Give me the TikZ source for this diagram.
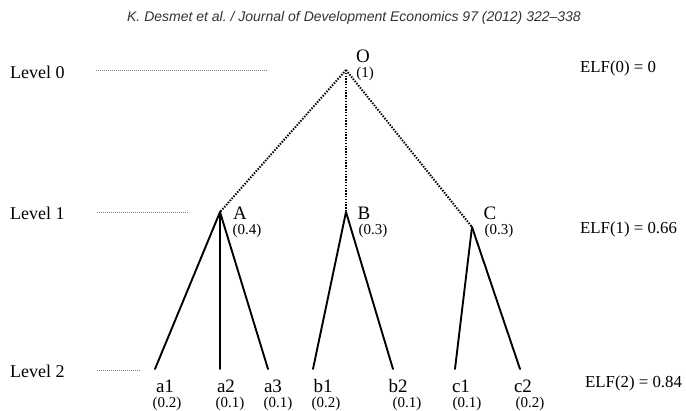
\documentclass[tikz,border=0pt]{standalone}
\usepackage{fontspec}
\setmainfont{Liberation Serif}
\newfontfamily\hdrfont[Ligatures=TeX]{Liberation Sans}
\begin{document}
\begin{tikzpicture}[x=1pt,y=-1pt,
  lbl/.style={inner sep=0pt,font=\fontsize{18}{20}\selectfont},
  nm/.style={inner sep=0pt,font=\fontsize{19}{21}\selectfont},
  elf/.style={inner sep=0pt,font=\fontsize{16.8}{19}\selectfont},
  prob/.style={inner sep=0pt,font=\fontsize{15}{17}\selectfont},
  branch/.style={line width=1.9pt,line cap=round},
  dotbranch/.style={line width=2pt,dash pattern=on 1.4pt off 1.4pt},
  levline/.style={line width=0.5pt,gray,dash pattern=on 0.8pt off 1.2pt}]
\useasboundingbox (0,0) rectangle (686,411);
% header
\node[inner sep=0pt,font=\hdrfont\itshape\fontsize{14}{16}\selectfont,text=black!80] (hdr) at (354,18) {K. Desmet et al.\ / Journal of Development Economics 97 (2012) 322–338};
% level labels
\node[lbl,anchor=west] (l0) at (10,72) {Level 0};
\node[lbl,anchor=west] (l1) at (10,213) {Level 1};
\node[lbl,anchor=west] (l2) at (10,371) {Level 2};
\coordinate (l0a) at (96,70); \coordinate (l0b) at (268,70);
\coordinate (l1a) at (97,212); \coordinate (l1b) at (189,212);
\coordinate (l2a) at (97,370); \coordinate (l2b) at (140,370);
\draw[levline] (l0a) -- (l0b);
\draw[levline] (l1a) -- (l1b);
\draw[levline] (l2a) -- (l2b);
% apexes
\coordinate (O) at (346,70);
\coordinate (A) at (220,212);
\coordinate (B) at (346,212);
\coordinate (C) at (472,227);
\draw[dotbranch] (O) -- (A);
\draw[dotbranch] (O) -- (B);
\draw[dotbranch] (O) -- (C);
% leaves
\coordinate (a1e) at (155,369);
\coordinate (a2e) at (220,369);
\coordinate (a3e) at (268,369);
\coordinate (b1e) at (313,369);
\coordinate (b2e) at (393,369);
\coordinate (c1e) at (455,369);
\coordinate (c2e) at (520,369);
\draw[branch] (A) -- (a1e);
\draw[branch] (A) -- (a2e);
\draw[branch] (A) -- (a3e);
\draw[branch] (B) -- (b1e);
\draw[branch] (B) -- (b2e);
\draw[branch] (C) -- (c1e);
\draw[branch] (C) -- (c2e);
% node labels
\node[nm] (Ot) at (363,56) {O};
\node[prob] (Op) at (365,74) {(1)};
\node[nm] (At) at (240,213) {A};
\node[prob] (Ap) at (247,231) {(0.4)};
\node[nm] (Bt) at (364,213) {B};
\node[prob] (Bp) at (373,231) {(0.3)};
\node[nm] (Ct) at (490,213) {C};
\node[prob] (Cp) at (499,231) {(0.3)};
% leaf labels
\node[nm] (a1) at (165,386) {a1};
\node[prob] (a1p) at (167,404) {(0.2)};
\node[nm] (a2) at (226,386) {a2};
\node[prob] (a2p) at (230,404) {(0.1)};
\node[nm] (a3) at (273,386) {a3};
\node[prob] (a3p) at (278,404) {(0.1)};
\node[nm] (b1) at (323,386) {b1};
\node[prob] (b1p) at (326,404) {(0.2)};
\node[nm] (b2) at (398,386) {b2};
\node[prob] (b2p) at (407,404) {(0.1)};
\node[nm] (c1) at (461,386) {c1};
\node[prob] (c1p) at (467,404) {(0.1)};
\node[nm] (c2) at (523,386) {c2};
\node[prob] (c2p) at (530,404) {(0.2)};
% ELF
\node[elf,anchor=west] (e0) at (580,68) {ELF(0) = 0};
\node[elf,anchor=west] (e1) at (580,229) {ELF(1) = 0.66};
\node[elf,anchor=west] (e2) at (585,383) {ELF(2) = 0.84};
\end{tikzpicture}
\end{document}
